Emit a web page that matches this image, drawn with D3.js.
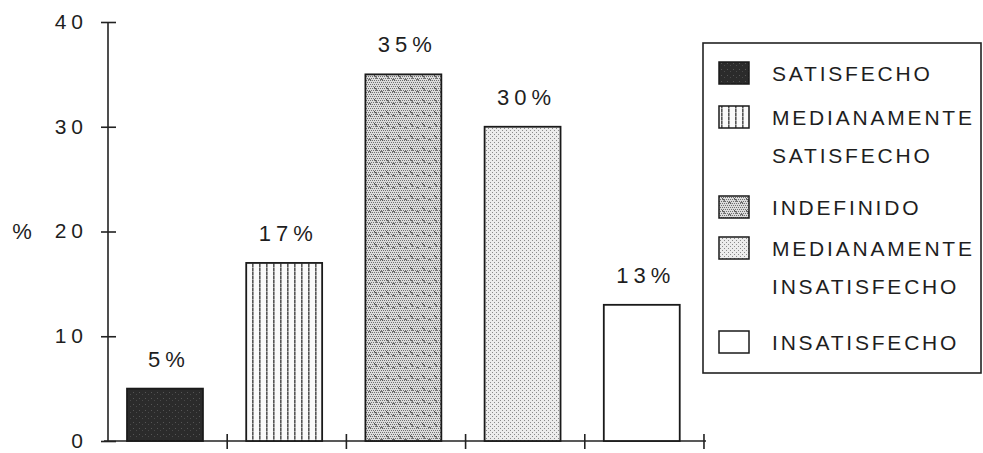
<!DOCTYPE html>
<html>
<head>
<meta charset="utf-8">
<script src="https://cdn.jsdelivr.net/npm/d3@7"></script>
<style>
  html, body { margin: 0; padding: 0; background: #fff; }
  svg { display: block; }
  text { font-family: "Liberation Sans", Arial, sans-serif; fill: #1e1e1e; }
</style>
</head>
<body>
<div id="chart"></div>
<script>
// Data
const categories = ["SATISFECHO", "MEDIANAMENTE SATISFECHO", "INDEFINIDO", "MEDIANAMENTE INSATISFECHO", "INSATISFECHO"];
const values = [5, 17, 35, 30, 13];
const valueLabels = ["5%", "17%", "35%", "30%", "13%"];
const legendLines = [["SATISFECHO"], ["MEDIANAMENTE", "SATISFECHO"], ["INDEFINIDO"], ["MEDIANAMENTE", "INSATISFECHO"], ["INSATISFECHO"]];
const yTicks = [0, 10, 20, 30, 40];

const width = 983, height = 453;
const svg = d3.select("#chart").append("svg")
  .attr("width", width)
  .attr("height", height)
  .attr("viewBox", `0 0 ${width} ${height}`);

const defs = svg.append("defs");

// Pattern fills, one per category
function makePattern(id, w, h, bg) {
  const p = defs.append("pattern")
    .attr("id", id)
    .attr("patternUnits", "userSpaceOnUse")
    .attr("width", w)
    .attr("height", h);
  p.append("rect").attr("width", w).attr("height", h).attr("fill", bg);
  return p;
}

// dark, speckled
const p0 = makePattern("pat-0", 6, 6, "#2b2b2b");
p0.append("rect").attr("x", 1).attr("y", 2).attr("width", 1).attr("height", 1).attr("fill", "#555");
p0.append("rect").attr("x", 4).attr("y", 4).attr("width", 1).attr("height", 1).attr("fill", "#4a4a4a");

// vertical stripes
const p1 = makePattern("pat-1", 7, 4, "#fafafa");
p1.append("rect").attr("x", 0).attr("y", 0).attr("width", 1.6).attr("height", 3).attr("fill", "#555");
p1.append("rect").attr("x", 0).attr("y", 3).attr("width", 1.6).attr("height", 1).attr("fill", "#999");

// medium stipple with squiggles
const p2 = makePattern("pat-2", 12, 12, "#dcdcdc");
for (let i = 0; i < 12; i += 2) {
  for (let j = 0; j < 12; j += 2) {
    p2.append("rect").attr("x", i + (j % 4 ? 1 : 0)).attr("y", j).attr("width", 1).attr("height", 1).attr("fill", "#707070");
  }
}
p2.append("path").attr("d", "M2,3 l2,2 l1,2").attr("stroke", "#4a4a4a").attr("stroke-width", 0.9).attr("fill", "none");
p2.append("path").attr("d", "M8,8 l2,-1 l1,2").attr("stroke", "#4a4a4a").attr("stroke-width", 0.9).attr("fill", "none");

// light stipple
const p3 = makePattern("pat-3", 4, 4, "#ececec");
p3.append("rect").attr("x", 0).attr("y", 0).attr("width", 1).attr("height", 1).attr("fill", "#8a8a8a");
p3.append("rect").attr("x", 2).attr("y", 2).attr("width", 1).attr("height", 1).attr("fill", "#8a8a8a");

const fills = ["url(#pat-0)", "url(#pat-1)", "url(#pat-2)", "url(#pat-3)", "#fff"];

// Scales
const x = d3.scaleBand()
  .domain(categories)
  .range([108, 706])
  .paddingInner(0.363)
  .paddingOuter(0.19)
  .align(0.42);

const y = d3.scaleLinear().domain([0, 40]).range([441, 22]);

// Y axis
const yAxis = svg.append("g")
  .attr("transform", `translate(${x.range()[0]},0)`)
  .call(d3.axisLeft(y).tickValues(yTicks).tickSize(7).tickPadding(13));
yAxis.select(".domain").remove();
yAxis.append("line")
  .attr("x1", 0).attr("x2", 0)
  .attr("y1", y(40)).attr("y2", y(0))
  .attr("stroke", "#222").attr("stroke-width", 1.6);
yAxis.selectAll(".tick line").attr("x1", 8).attr("stroke", "#222").attr("stroke-width", 1.6);
yAxis.selectAll(".tick text")
  .style("font-family", "'Liberation Sans', Arial, sans-serif")
  .style("font-size", "21px")
  .style("letter-spacing", "5px")
  .attr("fill", "#1e1e1e")
  .attr("dy", "0.3em");

svg.append("text")
  .attr("x", 22)
  .attr("y", y(20))
  .attr("dy", "0.34em")
  .attr("text-anchor", "middle")
  .style("font-size", "22px")
  .text("%");

// X axis baseline with boundary ticks
const step = x.step();
const boundaries = d3.range(categories.length + 1).map(i => x.range()[0] + i * step);
svg.append("line")
  .attr("x1", x.range()[0] - 4).attr("x2", x.range()[1])
  .attr("y1", y(0)).attr("y2", y(0))
  .attr("stroke", "#222").attr("stroke-width", 1.6);
svg.selectAll(".xtick")
  .data(boundaries.slice(1))
  .enter().append("line")
  .attr("class", "xtick")
  .attr("x1", d => d).attr("x2", d => d)
  .attr("y1", y(0) - 7).attr("y2", y(0) + 8)
  .attr("stroke", "#222").attr("stroke-width", 1.6);

// Bars
svg.selectAll(".bar")
  .data(values)
  .enter().append("rect")
  .attr("class", "bar")
  .attr("x", (d, i) => x(categories[i]))
  .attr("y", d => y(d))
  .attr("width", x.bandwidth())
  .attr("height", d => y(0) - y(d))
  .attr("fill", (d, i) => fills[i])
  .attr("stroke", "#1a1a1a")
  .attr("stroke-width", 1.8);

// Value labels
svg.selectAll(".vlabel")
  .data(values)
  .enter().append("text")
  .attr("class", "vlabel")
  .attr("x", (d, i) => x(categories[i]) + x.bandwidth() / 2 + 4)
  .attr("y", d => y(d) - 22)
  .attr("text-anchor", "middle")
  .style("font-size", "22px")
  .style("letter-spacing", "5px")
  .text((d, i) => valueLabels[i]);

// Legend
const legend = svg.append("g");
legend.append("rect")
  .attr("x", 703).attr("y", 43)
  .attr("width", 278).attr("height", 330)
  .attr("fill", "none")
  .attr("stroke", "#222")
  .attr("stroke-width", 1.6);

const itemTops = [73, 117, 207, 248, 342];
const lineGap = 38;
const item = legend.selectAll(".item")
  .data(legendLines)
  .enter().append("g")
  .attr("class", "item")
  .attr("transform", (d, i) => `translate(0,${itemTops[i]})`);

item.append("rect")
  .attr("x", 719).attr("y", -11)
  .attr("width", 30).attr("height", 22)
  .attr("fill", (d, i) => fills[i])
  .attr("stroke", "#1a1a1a")
  .attr("stroke-width", 1.5);

item.selectAll("text")
  .data(d => d)
  .enter().append("text")
  .attr("x", 772)
  .attr("y", (d, j) => j * lineGap)
  .attr("dy", "0.36em")
  .style("font-size", "21px")
  .style("letter-spacing", "2.8px")
  .style("font-weight", "300")
  .text(d => d);
</script>
</body>
</html>
